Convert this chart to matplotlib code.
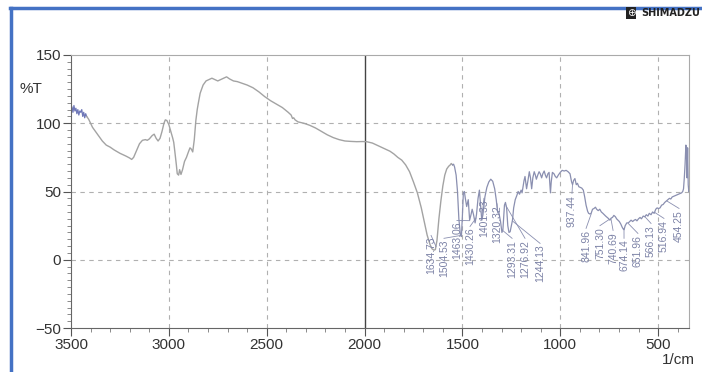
import matplotlib
matplotlib.use("Agg")
import matplotlib.pyplot as plt
from matplotlib.lines import Line2D
import numpy as np

plt.rcParams['font.family'] = ['Liberation Sans', 'DejaVu Sans']

# Data ==========================
wavenumber = [
    3500, 3495, 3490, 3485, 3480, 3475, 3470, 3465, 3460, 3455, 3450, 3445, 3440, 3435, 3430, 3425, 3420,
    3410, 3400, 3390, 3380, 3360, 3340, 3320, 3300, 3280, 3250, 3220, 3200, 3190, 3180, 3165, 3150, 3135,
    3120, 3110, 3100, 3085, 3075, 3065, 3055, 3045, 3035, 3025, 3018, 3010, 3000, 2990, 2980, 2975, 2970,
    2962, 2957, 2950, 2945, 2938, 2930, 2920, 2910, 2900, 2892, 2885, 2878, 2870, 2862, 2855, 2849, 2840,
    2825, 2810, 2795, 2780, 2765, 2750, 2735, 2720, 2705, 2690, 2670, 2650, 2630, 2600, 2570, 2540, 2510,
    2480, 2450, 2420, 2390, 2375, 2368, 2362, 2355, 2340, 2310, 2280, 2250, 2220, 2190, 2160, 2130, 2100,
    2070, 2040, 2010, 1990, 1960, 1930, 1900, 1870, 1850, 1830, 1810, 1790, 1770, 1750, 1730, 1710, 1695,
    1680, 1665, 1655, 1645, 1638, 1630, 1620, 1610, 1600, 1590, 1580, 1570, 1562, 1557, 1550, 1545, 1540,
    1532, 1525, 1518, 1510, 1505, 1500, 1495, 1490, 1485, 1478, 1470, 1463, 1456, 1450, 1443, 1435, 1428,
    1420, 1413, 1407, 1401, 1395, 1385, 1375, 1365, 1355, 1345, 1335, 1327, 1320, 1313, 1305, 1298, 1293,
    1285, 1280, 1274, 1268, 1262, 1256, 1248, 1244, 1238, 1230, 1222, 1215, 1208, 1200, 1195, 1185, 1180,
    1172, 1165, 1158, 1152, 1146, 1140, 1133, 1127, 1122, 1115, 1108, 1102, 1095, 1089, 1082, 1076, 1070,
    1063, 1057, 1053, 1050, 1046, 1040, 1032, 1025, 1018, 1010, 1000, 990, 980, 970, 960, 950, 942, 937,
    932, 925, 918, 912, 905, 898, 890, 882, 875, 868, 860, 855, 848, 842, 835, 828, 820, 814, 806, 798,
    790, 782, 775, 768, 760, 752, 746, 740, 733, 726, 718, 712, 705, 698, 690, 684, 678, 674, 668, 660,
    652, 645, 638, 630, 622, 615, 608, 600, 592, 585, 576, 568, 560, 552, 545, 536, 528, 520, 512, 505,
    498, 490, 482, 474, 466, 458, 450, 442, 435, 428, 420, 412, 404, 396, 388, 380, 374, 370, 366, 362,
    358, 355, 352, 349, 346, 343, 340,
]
transmittance = [
    110, 112, 108, 113, 109, 111, 107, 110, 106, 109, 108, 110, 105, 108, 104, 107, 105,
    103, 100, 97, 95, 91, 87, 84, 82.5, 80.5, 78, 76, 74.5, 73.5, 75, 80, 85, 87.5,
    88, 87.5, 88.5, 91, 92, 89, 87, 89, 94, 100, 102.5, 102, 99, 94, 89, 86, 80,
    70, 63, 62, 66, 62.5, 66, 72, 75, 79, 82, 81, 79, 88, 102, 110, 115, 122,
    128, 131, 132, 133, 132, 131, 132, 133, 134, 132.5, 131, 130.5, 129.5, 128, 126, 123, 119.5,
    116.5, 114, 111.5, 108, 106, 103.5, 104, 102.5, 101, 100, 98.5, 96.5, 94, 91.5, 89.5, 88, 87,
    86.7, 86.5, 86.6, 86.5, 85.5, 83.5, 81.5, 79.5, 77.5, 75, 73, 69.5, 64.5, 57, 49, 38, 28,
    18, 11, 8, 7, 7.5, 14, 30, 43, 54, 62, 66.5, 68.5, 69.5, 70.5, 69.5, 70, 68,
    62, 50, 30, 18, 17, 32, 49, 50, 45, 39, 44, 29, 33, 37, 33, 27, 33,
    45, 51, 40, 29, 33, 46, 53, 57, 59, 57.5, 52, 44, 35, 34, 28, 20, 22,
    40, 42, 38, 25, 20, 20.5, 26, 29, 38, 44, 47, 50, 48, 51, 49, 58, 61,
    52, 58, 64.5, 60, 52, 60, 64.5, 62, 59, 62, 64.5, 63, 60, 63, 65, 62, 60,
    63, 64, 56, 49, 57, 64, 63, 61, 60, 62, 64, 65.5, 65, 65.5, 64.5, 63, 57, 55,
    58, 59.5, 55, 56, 53.5, 53, 52.5, 51, 46, 40, 35.5, 34, 33.5, 34, 37, 37.5, 38.5, 37, 36, 37,
    35, 34, 33, 32, 31, 30, 29, 30.5, 31, 32.5, 31.5, 30, 29, 28, 26, 24, 22.5, 22, 25, 27,
    27, 28, 29, 28, 29, 29.5, 28.5, 30, 31, 30, 32, 31.5, 33, 32, 34, 33, 35, 34, 37, 38,
    37.5, 38, 40, 40.5, 42, 43, 44, 45, 44.5, 46, 46.5, 47, 47.5, 48, 48.5, 49, 50, 52, 60, 70,
    84, 78, 60, 82, 55, 50, 51,
]

peak_pos = [1634.73, 1504.53, 1463.06, 1430.26, 1401.33, 1320.32, 1293.31, 1276.92, 1244.13,
            937.44, 841.96, 751.30, 740.69, 674.14, 651.96, 566.13, 516.94, 454.25]
peak_labels = ['1634.73', '1504.53', '1463.06', '1430.26', '1401.33', '1320.32', '1293.31', '1276.92',
               '1244.13', '937.44', '841.96', '751.30', '740.69', '674.14', '651.96', '566.13',
               '516.94', '454.25']
# where each label sits (x in 1/cm, top end in %T)
label_x = [1660, 1594, 1528, 1461, 1390, 1323, 1246, 1180, 1103,
           940, 868, 797, 730, 674, 603, 536, 470, 393]
label_top = [16.8, 14.7, 27.8, 23.4, 44, 40, 14.7, 14.7, 11,
             47.6, 22, 24, 20.5, 14.7, 18.3, 25.6, 29.3, 36.6]

x = np.array(wavenumber, dtype=float)
y = np.array(transmittance, dtype=float)

# Figure ========================
fig = plt.figure(figsize=(7.02, 3.72), dpi=100)
ax = fig.add_axes([71 / 702, 1 - 328 / 372, 618 / 702, 273 / 372])

gray = '#a3a3a3'
bluish = '#8a8fb0'
m1 = x >= 3420
m2 = (x <= 3420) & (x >= 1550)
m3 = x <= 1550
ax.plot(x[m1], y[m1], color='#6f78b8', lw=0.9)
ax.plot(x[m2], y[m2], color=gray, lw=1.0)
ax.plot(x[m3], y[m3], color=bluish, lw=0.9)

ax.set_xlim(3500, 342)
ax.set_ylim(-50, 150)
ax.set_xticks([3500, 3000, 2500, 2000, 1500, 1000, 500])
ax.set_xticks(np.arange(400, 3500, 100), minor=True)
ax.set_yticks([150, 100, 50, 0, -50])
ax.set_yticks(np.arange(-50, 150, 5), minor=True)
ax.tick_params(axis='both', which='major', labelsize=11, length=6, color='#555555',
               labelcolor='#333333', pad=1)
ax.tick_params(axis='both', which='minor', length=3, color='#777777')

for xv in [3000, 2500, 1500, 1000, 500]:
    ax.axvline(xv, color='#b0b0b0', ls=(0, (4, 4)), lw=0.8, zorder=0)
for yv in [100, 50, 0]:
    ax.axhline(yv, color='#b0b0b0', ls=(0, (4, 4)), lw=0.8, zorder=0)
ax.axvline(2000, color='#444444', lw=1.0, zorder=0)

for side in ['top', 'right']:
    ax.spines[side].set_color('#aaaaaa')
for side in ['left', 'bottom']:
    ax.spines[side].set_color('#666666')

# peak labels with short leader lines
for px, lab, lx, lt in zip(peak_pos, peak_labels, label_x, label_top):
    py = np.interp(px, x[::-1], y[::-1])
    ax.plot([px, lx], [py - 0.5, lt + 1.0], color=bluish, lw=0.6)
    ax.text(lx, lt, lab, rotation=90, ha='center', va='top', fontsize=7.5, color='#7c82a6')

ax.text(-0.065, 125, '%T', transform=ax.get_yaxis_transform(), ha='center', va='center',
        fontsize=11, color='#333333')
fig.text(678 / 702, 1 - 360 / 372, '1/cm', ha='center', va='center', fontsize=11, color='#333333')

# header
fig.text(700 / 702, 1 - 13 / 372, 'SHIMADZU', ha='right', va='center', fontsize=7,
         fontweight='bold', color='#222222', family='DejaVu Sans')
fig.text(631 / 702, 1 - 13 / 372, '⊕', ha='center', va='center', fontsize=7.5, color='white',
         family='DejaVu Sans',
         bbox=dict(boxstyle='square,pad=0.1', facecolor='#222222', edgecolor='none'))

# blue frame
fig.add_artist(Line2D([11 / 702, 11 / 702], [0, 1 - 8 / 372], color='#4472c4', lw=2.5,
                      transform=fig.transFigure))
fig.add_artist(Line2D([10 / 702, 1], [1 - 8 / 372, 1 - 8 / 372], color='#4472c4', lw=2.5,
                      transform=fig.transFigure))

fig.savefig('out.png', dpi=100)
